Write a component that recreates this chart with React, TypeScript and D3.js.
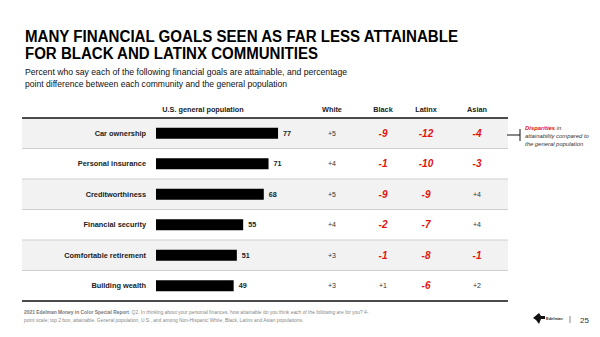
import React from "react";
import * as d3 from "d3";

const categories = [
  "Car ownership",
  "Personal insurance",
  "Creditworthiness",
  "Financial security",
  "Comfortable retirement",
  "Building wealth",
];
const generalPop = [77, 71, 68, 55, 51, 49];
const groups = ["White", "Black", "Latinx", "Asian"];
const whiteDiff = [5, 4, 5, 4, 3, 3];
const blackDiff = [-9, -1, -9, -2, -1, 1];
const latinxDiff = [-12, -10, -9, -7, -8, -6];
const asianDiff = [-4, -3, 4, 4, -1, 2];
const diffs = [whiteDiff, blackDiff, latinxDiff, asianDiff];

const FONT = "'Liberation Sans', Arial, Helvetica, sans-serif";

export default function App() {
  const W = 600, H = 337;
  const tableLeft = 22, tableRight = 508;
  const tableTop = 118, tableBottom = 301;
  const y = d3.scaleBand<string>().domain(categories).range([tableTop, tableBottom]).paddingInner(0).paddingOuter(0);
  const x = d3.scaleLinear().domain([0, 100]).range([156, 156 + 158.5]);
  const colPos: Record<string, number> = { White: 332, Black: 383, Latinx: 426, Asian: 477 };
  const barH = 11;
  const fmt = (v: number) => (v > 0 ? "+" + v : String(v));

  return (
    <svg width={W} height={H} style={{ position: "absolute", left: 0, top: 0, background: "#fff" }} fontFamily={FONT}>
      <rect x={0} y={0} width={W} height={H} fill="#fff" />
      <text x={25} y={42} fontSize={16} fontWeight="bold" fill="#000" textLength={433} lengthAdjust="spacingAndGlyphs">MANY FINANCIAL GOALS SEEN AS FAR LESS ATTAINABLE</text>
      <text x={25} y={58.5} fontSize={16} fontWeight="bold" fill="#000" textLength={293} lengthAdjust="spacingAndGlyphs">FOR BLACK AND LATINX COMMUNITIES</text>
      <text x={25} y={75} fontSize={9.4} fill="#111" textLength={322} lengthAdjust="spacingAndGlyphs">Percent who say each of the following financial goals are attainable, and percentage</text>
      <text x={25} y={87} fontSize={9.4} fill="#111" textLength={262} lengthAdjust="spacingAndGlyphs">point difference between each community and the general population</text>

      {/* headers */}
      <text x={203} y={112} fontSize={7.3} fontWeight="bold" fill="#222" textAnchor="middle">U.S. general population</text>
      {groups.map((g) => (
        <text key={g} x={colPos[g]} y={112} fontSize={7.3} fontWeight="bold" fill="#222" textAnchor="middle">{g}</text>
      ))}

      {/* row bands */}
      {categories.map((c, i) => (
        <g key={c}>
          {i % 2 === 0 && (
            <rect x={tableLeft} y={y(c)!} width={tableRight - tableLeft} height={y.bandwidth()} fill="#f2f2f2" />
          )}
          {i > 0 && (
            <line x1={tableLeft} x2={tableRight} y1={y(c)!} y2={y(c)!} stroke="#cfcfcf" strokeWidth={1} />
          )}
        </g>
      ))}
      <line x1={tableLeft} x2={tableRight} y1={tableTop} y2={tableTop} stroke="#111" strokeWidth={1.5} />
      <line x1={tableLeft} x2={tableRight} y1={tableBottom} y2={tableBottom} stroke="#111" strokeWidth={1.5} />

      {categories.map((c, i) => {
        const cy = y(c)! + y.bandwidth() / 2;
        return (
          <g key={c}>
            <text x={146} y={cy + 2.5} fontSize={7.4} fontWeight="bold" fill="#222" textAnchor="end">{c}</text>
            <rect x={x(0)} y={cy - barH / 2} width={x(generalPop[i]) - x(0)} height={barH} fill="#000" />
            <text x={x(generalPop[i]) + 5} y={cy + 2.5} fontSize={7.2} fontWeight="bold" fill="#222">{generalPop[i]}</text>
            {groups.map((g, j) => {
              const v = diffs[j][i];
              const neg = v < 0;
              return (
                <text
                  key={g}
                  x={colPos[g]}
                  y={neg ? cy + 3.5 : cy + 2.5}
                  fontSize={neg ? 10 : 7}
                  fontWeight={neg ? "bold" : "normal"}
                  fontStyle={neg ? "italic" : "normal"}
                  fill={neg ? "#e3120b" : "#333"}
                  textAnchor="middle"
                >
                  {fmt(v)}
                </text>
              );
            })}
          </g>
        );
      })}

      {/* annotation */}
      <line x1={507} x2={520} y1={135} y2={135} stroke="#111" strokeWidth={1} />
      <line x1={520} x2={520} y1={129} y2={141} stroke="#111" strokeWidth={1} />
      <text x={525} y={129.5} fontSize={5.9} fontStyle="italic" fill="#333">
        <tspan fill="#e3120b" fontWeight="bold">Disparities</tspan> in
      </text>
      <text x={525} y={137.5} fontSize={5.9} fontStyle="italic" fill="#333">attainability compared to</text>
      <text x={525} y={145.5} fontSize={5.9} fontStyle="italic" fill="#333">the general population</text>

      {/* footer */}
      <text x={24} y={314} fontSize={4.9} fill="#888">
        <tspan fontWeight="bold" fill="#777">2021 Edelman Money in Color Special Report</tspan>. Q2. In thinking about your personal finances, how attainable do you think each of the following are for you? 4-
      </text>
      <text x={24} y={321.5} fontSize={4.9} fill="#888">point scale; top 2 box, attainable. General population, U.S., and among Non-Hispanic White, Black, Latinx and Asian populations.</text>

      {/* logo */}
      <path d="M533,318 L539,313 L541,316 L545,316 L545,319 L541,319 L539,324 L536,320 Z" fill="#111" />
      <text x={546} y={320} fontSize={4} fontWeight="bold" fill="#333">Edelman</text>
      <line x1={570} x2={570} y1={316} y2={323} stroke="#555" strokeWidth={0.7} />
      <text x={580} y={322.5} fontSize={8} fill="#333">25</text>
    </svg>
  );
}
